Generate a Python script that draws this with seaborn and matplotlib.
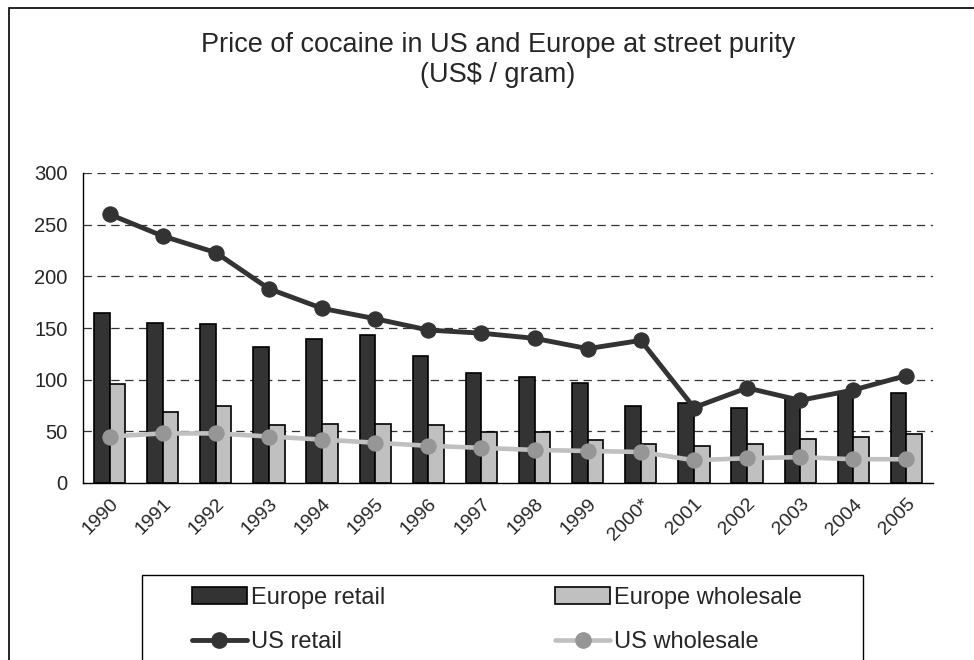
import numpy as np
import pandas as pd
import matplotlib
matplotlib.use("Agg")
import matplotlib.pyplot as plt
from matplotlib.patches import Patch, Rectangle
from matplotlib.lines import Line2D
import seaborn as sns

sns.set_style("white")
plt.rcParams['font.family'] = ['Liberation Sans', 'DejaVu Sans']
plt.rcParams['lines.scale_dashes'] = False

# data (US$ per gram)
years = ["1990", "1991", "1992", "1993", "1994", "1995", "1996", "1997",
         "1998", "1999", "2000*", "2001", "2002", "2003", "2004", "2005"]
europe_retail = [165, 155, 154, 132, 139, 143, 123, 106, 103, 97, 75, 77, 73, 82, 88, 87]
europe_wholesale = [96, 69, 75, 56, 57, 57, 56, 49, 49, 42, 38, 36, 38, 43, 45, 47]
us_retail = [260, 239, 223, 188, 169, 159, 148, 145, 140, 130, 138, 73, 92, 80, 90, 104]
us_wholesale = [45, 48, 48, 45, 42, 39, 36, 34, 32, 31, 30, 22, 24, 25, 23, 23]

dark = "#333333"
light = "#C0C0C0"
mid = "#969696"

bars = pd.DataFrame({
    "year": years * 2,
    "price": europe_retail + europe_wholesale,
    "series": ["Europe retail"] * len(years) + ["Europe wholesale"] * len(years),
})

fig = plt.figure(figsize=(9.74, 6.6), dpi=100)
ax = fig.add_axes([83 / 974, 1 - 483 / 660, 850 / 974, 310 / 660])

sns.barplot(data=bars, x="year", y="price", hue="series", order=years,
            palette=[dark, light], saturation=1, width=0.59,
            edgecolor="black", linewidth=1.2, legend=False, ax=ax, zorder=2)

pos = np.arange(len(years))
sns.lineplot(x=pos, y=us_wholesale, color=light, linewidth=3.3, marker="o",
             markersize=11, markerfacecolor=mid, markeredgecolor=mid, ax=ax, zorder=3)
sns.lineplot(x=pos, y=us_retail, color=dark, linewidth=3.5, marker="o",
             markersize=11, markerfacecolor=dark, markeredgecolor=dark, ax=ax, zorder=4)

ax.set_xlim(-0.5, len(years) - 0.5)
ax.set_ylim(0, 300)
ax.set_yticks(range(0, 301, 50))
ax.set_xticks(pos)
ax.set_xticklabels(years, rotation=45, ha="right", rotation_mode="anchor")
ax.set_xticks(np.arange(-0.5, len(years)), minor=True)
ax.tick_params(axis="x", which="major", length=0, pad=9, labelsize=14)
ax.tick_params(axis="x", which="minor", length=6, width=1, color="black", direction="out")
ax.tick_params(axis="y", length=6, width=1, color="black", direction="out", labelsize=14.5, pad=5)
ax.set_xlabel("")
ax.set_ylabel("")

for v in range(50, 301, 50):
    ax.axhline(v, color="#333333", linewidth=0.9, linestyle=(0, (6, 4)), zorder=1)

for side in ["top", "right"]:
    ax.spines[side].set_visible(False)
for side in ["left", "bottom"]:
    ax.spines[side].set_color("black")
    ax.spines[side].set_linewidth(1)

fig.text(498 / 974, 1 - 60 / 660,
         "Price of cocaine in US and Europe at street purity\n(US$ / gram)",
         ha="center", va="center", fontsize=19.5, linespacing=1.15)

handles = [
    Patch(facecolor=dark, edgecolor="black", linewidth=1.2),
    Line2D([], [], color=dark, linewidth=3.5, marker="o", markersize=11),
    Patch(facecolor=light, edgecolor="black", linewidth=1.2),
    Line2D([], [], color=light, linewidth=3.3, marker="o", markersize=11,
           markerfacecolor=mid, markeredgecolor=mid),
]
labels = ["Europe retail", "US retail", "Europe wholesale", "US wholesale"]
leg = fig.legend(handles, labels, ncol=2, loc="upper left",
                 bbox_to_anchor=(181 / 974, 1 - 576 / 660),
                 frameon=False, fontsize=17, handlelength=2.35, handleheight=0.72,
                 handletextpad=0.15, labelspacing=0.95, columnspacing=7.2,
                 borderpad=0.45, borderaxespad=0)

# legend box, running off the bottom of the picture
fig.add_artist(Rectangle((142 / 974, -0.1), 721 / 974, 0.1 + 85 / 660,
                         transform=fig.transFigure, fill=False,
                         edgecolor="black", linewidth=1))

# outer chart border (clipped by the picture on the right and bottom)
fig.add_artist(Rectangle((9 / 974, -0.1), 1.2, 1.1 - 8 / 660, transform=fig.transFigure,
                         fill=False, edgecolor="black", linewidth=1.2))

fig.savefig("out.png", dpi=100)
